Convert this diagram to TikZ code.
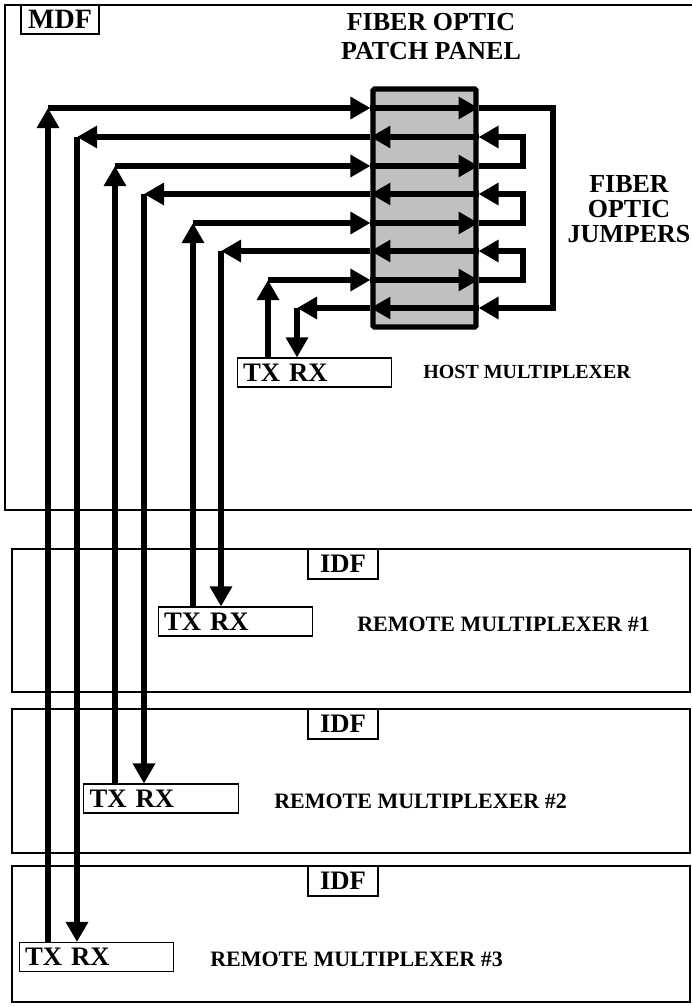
\documentclass[tikz,border=0pt]{standalone}
\usepackage{fontspec}
\setmainfont{Liberation Serif}
\usepackage{tikz}
\usetikzlibrary{arrows.meta,positioning,calc}
\definecolor{PanelGray}{HTML}{C0C0C0}
\definecolor{PanelInk}{HTML}{000000}

\begin{document}
\begin{tikzpicture}[x=0.75pt, y=-0.75pt,
  wall/.style={draw=PanelInk, line width=1.6pt},
  tag/.style={draw=PanelInk, line width=1.5pt, fill=white, inner sep=0pt,
              minimum width=52.5pt, minimum height=22.5pt, font=\fontsize{20}{20}\selectfont\bfseries},
  txrx/.style={draw=PanelInk, line width=0.8pt, fill=white, inner xsep=4.5pt, inner ysep=0pt,
               text width=107pt, minimum height=21.75pt, align=left, font=\fontsize{20}{20}\selectfont\bfseries},
  panel/.style={draw=PanelInk, fill=PanelGray, line width=3.8pt, rounded corners=1pt,
                minimum width=77.25pt, minimum height=178.5pt, inner sep=0pt},
  fiber/.style={draw=PanelInk, line width=3.9pt},
  sig/.style={-{Triangle[length=15pt, width=16pt]}},
  lbl/.style={inner sep=0pt, anchor=west, text=PanelInk},
  every node/.style={align=center}]
  \useasboundingbox (0,0) rectangle (692,1007);
  \draw[wall] (696,5) -- (5,5) -- (5,510) -- (696,510);
  \node[tag, minimum width=58.5pt, minimum height=21.75pt, font=\fontsize{21}{21}\selectfont\bfseries] (mdf) at (60,19.5) {MDF};
  \node[font=\fontsize{19.5}{21.75}\selectfont\bfseries] (ttl) at (431,37) {FIBER OPTIC\\PATCH PANEL};
  \node[font=\fontsize{19.5}{18.75}\selectfont\bfseries] (jmp) at (629,209) {FIBER\\OPTIC\\JUMPERS};
  \node[panel] (panel) at (424.5,208) {};
  \node[txrx] (host) at (314.5,372.5) {TX RX};
  \node[lbl, font=\fontsize{15}{15}\selectfont\bfseries] (hostlbl) at (423,372) {HOST MULTIPLEXER};
  \foreach \n/\t/\b/\bx/\by/\lx/\ly in {%
      1/549/692/235.5/621.5/357/624,
      2/709/853/161/798.5/274/801,
      3/866/1002/96.5/957/210/959}{
    \draw[wall] (12,\t) rectangle (690,\b);
    \node[tag] (idf\n) at (343,\t+15) {IDF};
    \node[txrx] (rm\n) at (\bx,\by) {TX RX};
    \node[lbl, font=\fontsize{16.5}{16.5}\selectfont\bfseries] (rmlbl\n) at (\lx,\ly) {REMOTE MULTIPLEXER \#\n};
  }
  \coordinate (jo) at (553,0);
  \coordinate (ji) at (523,0);
  \foreach \b/\tx/\ty/\rx/\ry in {%
      rm3/48/108/77/137,
      rm2/115/166/144/194,
      rm1/193/223/221/251,
      host/268/280/297/308}{
    \coordinate (tx\b) at (\tx,\ty);
    \coordinate (rx\b) at (\rx,\ry);
    \draw[fiber, sig] (tx\b |- \b.north) -- (tx\b);
    \draw[fiber, sig] (tx\b) -- (tx\b -| panel.west);
    \draw[fiber, sig] (tx\b -| panel.west) -- (tx\b -| panel.east);
    \draw[fiber, sig] (rx\b -| panel.east) -- (rx\b -| panel.west);
    \draw[fiber, sig] (rx\b -| panel.west) -- (rx\b);
    \draw[fiber, sig] (rx\b) -- (rx\b |- \b.north);
  }
  \foreach \a/\b/\j in {rm3/host/jo, rm2/rm3/ji, rm1/rm2/ji, host/rm1/ji}
    \draw[fiber, sig] (tx\a -| panel.east) -- (tx\a -| \j) -- (rx\b -| \j) -- (rx\b -| panel.east);
\end{tikzpicture}
\end{document}
